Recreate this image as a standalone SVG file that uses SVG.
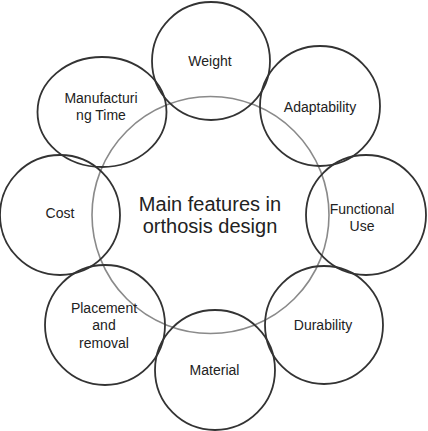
<svg xmlns="http://www.w3.org/2000/svg" width="428" height="431" viewBox="0 0 428 431">
<style>
.n{fill:none;stroke:#333;stroke-width:1.8}
.c{fill:none;stroke:#8a8a8a;stroke-width:1.6}
.t{font-family:"Liberation Sans",Arial,sans-serif;font-size:14px;fill:#222;text-anchor:middle}
.m{font-family:"Liberation Sans",Arial,sans-serif;font-size:20px;fill:#222;text-anchor:middle}
</style>
<rect width="428" height="431" fill="#fff"/>
<g id="center">
<circle class="c" cx="210.5" cy="215" r="118.5"/>
<text class="m" x="210" y="211">Main features in</text>
<text class="m" x="210" y="233">orthosis design</text>
</g>
<g id="weight">
<circle class="n" cx="211" cy="61" r="59"/>
<text class="t" x="210" y="66">Weight</text>
</g>
<g id="adaptability">
<circle class="n" cx="320" cy="106" r="60"/>
<text class="t" x="320" y="112">Adaptability</text>
</g>
<g id="functional-use">
<circle class="n" cx="366" cy="215" r="60"/>
<text class="t" x="362" y="214">Functional</text>
<text class="t" x="362" y="231">Use</text>
</g>
<g id="durability">
<circle class="n" cx="324" cy="325" r="59"/>
<text class="t" x="323" y="330">Durability</text>
</g>
<g id="material">
<circle class="n" cx="215" cy="370" r="60"/>
<text class="t" x="214.5" y="375">Material</text>
</g>
<g id="placement">
<circle class="n" cx="105" cy="325" r="60"/>
<text class="t" x="104" y="313">Placement</text>
<text class="t" x="104" y="330">and</text>
<text class="t" x="104" y="348">removal</text>
</g>
<g id="cost">
<circle class="n" cx="60" cy="215" r="60"/>
<text class="t" x="60" y="218">Cost</text>
</g>
<g id="manufacturing-time">
<ellipse class="n" cx="102" cy="112" rx="64.5" ry="55"/>
<text class="t" x="101" y="103">Manufacturi</text>
<text class="t" x="101" y="120">ng Time</text>
</g>
<g id="connectors"/>
</svg>
